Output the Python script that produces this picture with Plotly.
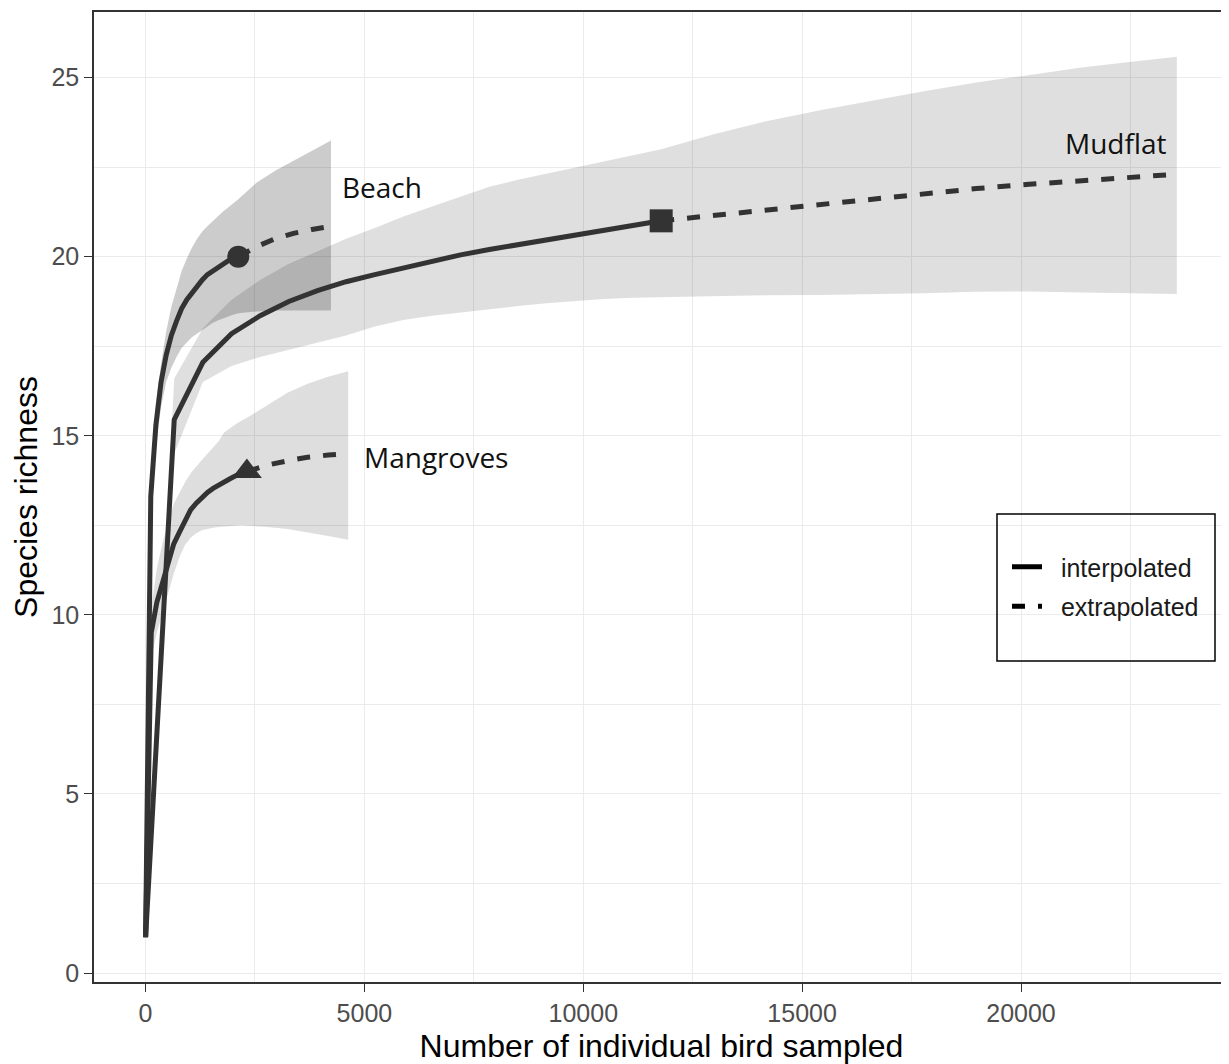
import plotly.graph_objects as go

# ---------------- data ----------------
beach_int_x = [1, 119, 236, 354, 471, 589, 707, 824, 942, 1059, 1177, 1295, 1412, 1530, 1648, 1765, 1883, 2000, 2118]
beach_int_y = [1.0, 13.3, 15.3, 16.5, 17.25, 17.8, 18.2, 18.55, 18.8, 19.0, 19.2, 19.35, 19.5, 19.6, 19.7, 19.8, 19.88, 19.95, 20.0]
beach_int_lo = [1.0, 12.8, 14.7, 15.8, 16.5, 16.9, 17.2, 17.45, 17.6, 17.75, 17.85, 17.95, 18.05, 18.15, 18.22, 18.28, 18.33, 18.38, 18.42]
beach_int_hi = [1.0, 13.8, 15.9, 17.0, 17.9, 18.6, 19.1, 19.6, 19.95, 20.25, 20.5, 20.7, 20.85, 21.0, 21.12, 21.25, 21.37, 21.48, 21.6]
beach_ext_x = [2118, 2540, 2960, 3380, 3800, 4236]
beach_ext_y = [20.0, 20.28, 20.5, 20.65, 20.76, 20.85]
beach_ext_lo = [18.42, 18.47, 18.5, 18.5, 18.5, 18.5]
beach_ext_hi = [21.6, 22.07, 22.4, 22.68, 22.96, 23.24]

mud_int_x = [1, 655, 1309, 1964, 2618, 3272, 3927, 4581, 5236, 5890, 6544, 7199, 7853, 8508, 9162, 9816, 10471, 11125, 11780]
mud_int_y = [1.0, 15.45, 17.05, 17.85, 18.35, 18.75, 19.05, 19.3, 19.5, 19.68, 19.88, 20.05, 20.2, 20.33, 20.46, 20.58, 20.72, 20.86, 21.0]
mud_int_lo = [1.0, 14.5, 16.5, 16.95, 17.2, 17.42, 17.6, 17.8, 18.05, 18.23, 18.35, 18.45, 18.53, 18.62, 18.7, 18.77, 18.82, 18.85, 18.87]
mud_int_hi = [1.0, 16.6, 18.0, 18.8, 19.35, 19.8, 20.15, 20.5, 20.8, 21.12, 21.4, 21.68, 21.95, 22.15, 22.32, 22.48, 22.65, 22.82, 23.0]
mud_ext_x = [11780, 12980, 14180, 15380, 16580, 17780, 18980, 20180, 21380, 22580, 23560]
mud_ext_y = [21.0, 21.15, 21.3, 21.47, 21.62, 21.77, 21.9, 22.02, 22.13, 22.22, 22.3]
mud_ext_lo = [18.87, 18.9, 18.92, 18.93, 18.95, 18.98, 19.02, 19.03, 19.0, 18.97, 18.96]
mud_ext_hi = [23.0, 23.42, 23.78, 24.08, 24.35, 24.62, 24.86, 25.08, 25.28, 25.45, 25.58]

man_int_x = [1, 130, 258, 387, 515, 644, 772, 901, 1029, 1158, 1286, 1415, 1543, 1672, 1800, 1929, 2058, 2186, 2315]
man_int_y = [1.0, 9.5, 10.35, 10.9, 11.5, 11.98, 12.3, 12.62, 12.93, 13.12, 13.28, 13.42, 13.53, 13.63, 13.72, 13.8, 13.88, 13.94, 14.0]
man_int_lo = [1.0, 8.8, 9.5, 10.0, 10.6, 11.15, 11.6, 11.95, 12.15, 12.28, 12.36, 12.4, 12.43, 12.45, 12.47, 12.48, 12.49, 12.5, 12.5]
man_int_hi = [1.0, 10.2, 11.3, 12.0, 12.6, 13.1, 13.4, 13.7, 13.95, 14.15, 14.32, 14.5, 14.68, 14.85, 15.1, 15.22, 15.32, 15.42, 15.5]
man_ext_x = [2315, 2780, 3240, 3700, 4170, 4630]
man_ext_y = [14.0, 14.18, 14.3, 14.4, 14.46, 14.5]
man_ext_lo = [12.5, 12.45, 12.4, 12.3, 12.2, 12.1]
man_ext_hi = [15.5, 15.85, 16.2, 16.45, 16.65, 16.8]

site_names = ["Beach", "Mudflat", "Mangroves"]
label_x = [4440, 23390, 4940]
label_y = [21.95, 23.18, 14.42]
label_anchor = ["left", "right", "left"]

x_ticks = [0, 5000, 10000, 15000, 20000]
y_ticks = [0, 5, 10, 15, 20, 25]

LINE = "#333333"
DASH = "13px,13px"

sites = [
    dict(name="Mudflat", ix=mud_int_x, iy=mud_int_y, ilo=mud_int_lo, ihi=mud_int_hi,
         ex=mud_ext_x, ey=mud_ext_y, elo=mud_ext_lo, ehi=mud_ext_hi,
         fill="rgba(0,0,0,0.125)", sym="square", size=23),
    dict(name="Mangroves", ix=man_int_x, iy=man_int_y, ilo=man_int_lo, ihi=man_int_hi,
         ex=man_ext_x, ey=man_ext_y, elo=man_ext_lo, ehi=man_ext_hi,
         fill="rgba(0,0,0,0.13)", sym="triangle-up", size=26),
    dict(name="Beach", ix=beach_int_x, iy=beach_int_y, ilo=beach_int_lo, ihi=beach_int_hi,
         ex=beach_ext_x, ey=beach_ext_y, elo=beach_ext_lo, ehi=beach_ext_hi,
         fill="rgba(0,0,0,0.2)", sym="circle", size=22),
]

fig = go.Figure()

# confidence bands
for s in sites:
    bx = s["ix"] + s["ex"][1:]
    bhi = s["ihi"] + s["ehi"][1:]
    blo = s["ilo"] + s["elo"][1:]
    fig.add_trace(go.Scatter(
        x=bx + bx[::-1], y=bhi + blo[::-1], fill="toself", fillcolor=s["fill"],
        line=dict(width=0), mode="lines", showlegend=False, hoverinfo="skip"))

# curves
for s in sites:
    fig.add_trace(go.Scatter(x=s["ix"], y=s["iy"], mode="lines",
                             line=dict(color=LINE, width=5), showlegend=False))
    fig.add_trace(go.Scatter(x=s["ex"], y=s["ey"], mode="lines",
                             line=dict(color=LINE, width=5, dash=DASH), showlegend=False))
    fig.add_trace(go.Scatter(x=[s["ix"][-1]], y=[s["iy"][-1]], mode="markers",
                             marker=dict(symbol=s["sym"], size=s["size"], color=LINE),
                             showlegend=False))

# legend entries
fig.add_trace(go.Scatter(x=[None], y=[None], mode="lines", name="\u00a0\u00a0interpolated",
                         line=dict(color="black", width=5), legendgroup="a"))
fig.add_trace(go.Scatter(x=[None], y=[None], mode="lines", name="\u00a0\u00a0extrapolated",
                         line=dict(color="black", width=5, dash=DASH), legendgroup="b"))

for n, lx, ly, la in zip(site_names, label_x, label_y, label_anchor):
    fig.add_annotation(x=lx, y=ly, text=n, showarrow=False, xanchor=la, yanchor="middle",
                       font=dict(family="Open Sans", size=28, color="#111111"))

# page has an 8px body margin: figure sized to fill the rest of the window
OFF = 8
W, H = 1229 - OFF, 1064 - OFF
ML, MR, MT, MB = 94 - OFF, 0, 12 - OFF, 1064 - 982
pw, ph = W - ML - MR, H - MT - MB

def px(xp):
    return (xp - OFF - ML) / pw

def py(yp):
    return 1 - (yp - OFF - MT) / ph

fig.add_shape(type="rect", xref="paper", yref="paper",
              x0=px(997), x1=px(1215), y0=py(661), y1=py(514),
              line=dict(color="black", width=1.5), fillcolor="rgba(0,0,0,0)", layer="above")

axis_common = dict(
    showgrid=True, gridcolor="#ebebeb", gridwidth=1.3,
    zeroline=False, showline=True, linecolor="#333333", linewidth=1.5,
    ticks="outside", ticklen=8, tickwidth=1.3, tickcolor="#333333",
    tickfont=dict(family="Liberation Sans, Arial", size=25, color="#4d4d4d"),
)

fig.update_layout(
    width=W, height=H,
    margin=dict(l=ML, r=MR, t=MT, b=MB),
    paper_bgcolor="white", plot_bgcolor="white",
    showlegend=True,
    legend=dict(x=px(1007), y=py(544), xanchor="left", yanchor="top",
                bgcolor="rgba(0,0,0,0)", borderwidth=0,
                font=dict(family="Liberation Sans, Arial", size=25, color="#1a1a1a"),
                tracegroupgap=4, traceorder="grouped", itemwidth=30),
    xaxis=dict(range=[-1178, 24752], tickvals=x_ticks, ticktext=[str(v) for v in x_ticks],
               mirror=True,
               minor=dict(dtick=2500, tick0=0, showgrid=True, gridcolor="#ebebeb", gridwidth=0.8, ticks=""),
               title=dict(text="Number of individual bird sampled", standoff=12,
                          font=dict(family="Liberation Sans, Arial", size=32, color="black")),
               **axis_common),
    yaxis=dict(range=[-0.25, 26.83], tickvals=y_ticks, ticktext=[str(v) for v in y_ticks],
               mirror=False,
               minor=dict(dtick=2.5, tick0=0, showgrid=True, gridcolor="#ebebeb", gridwidth=0.8, ticks=""),
               title=dict(text="Species richness", standoff=12,
                          font=dict(family="Liberation Sans, Arial", size=32, color="black")),
               **axis_common),
)

fig.write_html("out.html")
